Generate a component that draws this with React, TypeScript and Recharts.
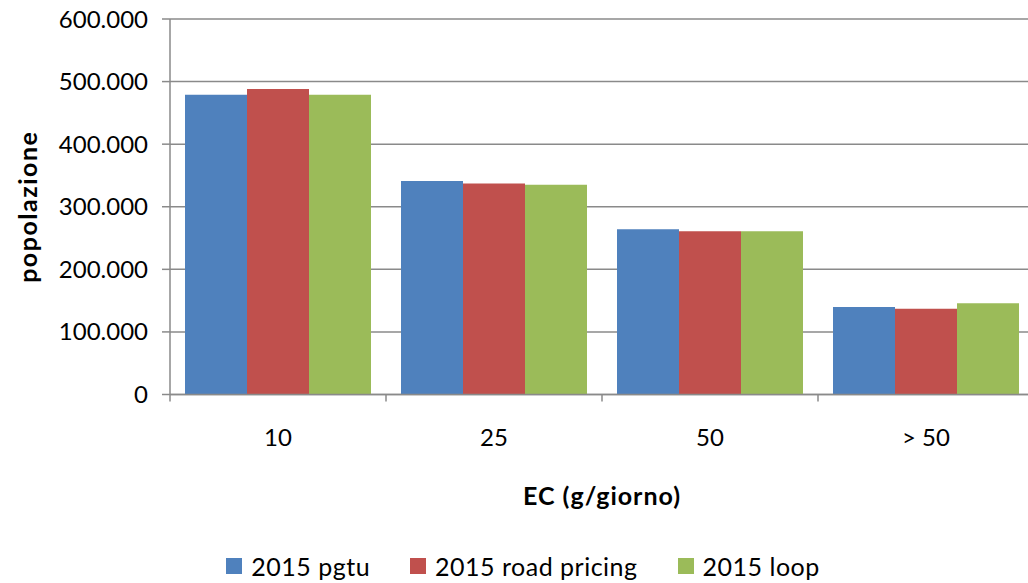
import React from 'react';
import { BarChart, Bar, XAxis, YAxis, CartesianGrid, Legend } from 'recharts';

const categories = ['10', '25', '50', '> 50'];
const pgtu = [479000, 341000, 264000, 140000];
const roadPricing = [488000, 337000, 261000, 137000];
const loop = [479000, 335000, 261000, 146000];
const yTicks = [0, 100000, 200000, 300000, 400000, 500000, 600000];

const seriesInfo = [
  { key: 'pgtu', name: '2015 pgtu', color: '#4F81BD' },
  { key: 'road', name: '2015 road pricing', color: '#C0504D' },
  { key: 'loop', name: '2015 loop', color: '#9BBB59' },
];

const data = categories.map((c, i) => ({
  cat: c,
  pgtu: pgtu[i],
  road: roadPricing[i],
  loop: loop[i],
}));

const FONT = 'Lato, "Open Sans", sans-serif';
const AXIS = '#8a8a8a';
const CHART_W = 1036;
const CHART_H = 583;
const Y_W = 170;
const MARGIN = { top: 19, right: 2, left: 0, bottom: 2 };
const BAND = (CHART_W - Y_W - MARGIN.right) / categories.length;

const fmt = (v: number) => v.toLocaleString('de-DE');

// category label in the middle, tick marks on the band edges (Excel style)
const CatTick = (props: any) => {
  const { x, y, payload, index } = props;
  return (
    <g>
      <line x1={x - BAND / 2} x2={x - BAND / 2} y1={y} y2={y + 7} stroke={AXIS} strokeWidth={1.5} />
      {index === categories.length - 1 && (
        <line x1={x + BAND / 2} x2={x + BAND / 2} y1={y} y2={y + 7} stroke={AXIS} strokeWidth={1.5} />
      )}
      <text x={x} y={y + 51} textAnchor="middle" fontSize={24} fontFamily={FONT} fill="#000">
        {payload.value}
      </text>
    </g>
  );
};

const LegendBox = () => (
  <div style={{ display: 'flex', justifyContent: 'center', alignItems: 'center', height: 30, fontFamily: FONT, fontSize: 25, letterSpacing: 0.5, color: '#000' }}>
    {seriesInfo.map((s) => (
      <div key={s.key} style={{ display: 'flex', alignItems: 'center', margin: '0 20px' }}>
        <span style={{ width: 16, height: 16, background: s.color, display: 'inline-block', marginRight: 9 }} />
        <span>{s.name}</span>
      </div>
    ))}
  </div>
);

export default function App() {
  return (
    <div style={{ position: 'absolute', left: 0, top: 0, width: 1028, height: CHART_H, overflow: 'hidden', background: '#fff' }}>
      <BarChart width={CHART_W} height={CHART_H} data={data} margin={MARGIN} barGap={0} barSize={62}>
        <CartesianGrid vertical={false} stroke={AXIS} strokeWidth={1.5} />
        <XAxis
          dataKey="cat"
          height={156.5}
          axisLine={{ stroke: AXIS, strokeWidth: 1.5 }}
          tickLine={false}
          tickSize={0}
          tickMargin={0}
          tick={<CatTick />}
          interval={0}
          label={{ value: 'EC (g/giorno)', position: 'insideBottom', offset: 46, fontSize: 25, letterSpacing: 1, fontWeight: 700, fontFamily: FONT, fill: '#000' }}
        />
        <YAxis
          width={Y_W}
          domain={[0, 600000]}
          ticks={yTicks}
          interval={0}
          tickFormatter={fmt}
          axisLine={{ stroke: AXIS, strokeWidth: 1.5 }}
          tickLine={{ stroke: AXIS, strokeWidth: 1.5 }}
          tickSize={8}
          tickMargin={14}
          tick={{ fontSize: 24, fontFamily: FONT, fill: '#000' }}
          label={{
            content: ({ viewBox }: any) => (
              <text
                x={27}
                y={viewBox.y + viewBox.height / 2}
                transform={`rotate(-90, 27, ${viewBox.y + viewBox.height / 2})`}
                textAnchor="middle"
                dominantBaseline="central"
                fontSize={25}
                letterSpacing={1.5}
                fontWeight={700}
                fontFamily={FONT}
                fill="#000"
              >
                popolazione
              </text>
            ),
          }}
        />
        <Legend verticalAlign="bottom" content={<LegendBox />} wrapperStyle={{ left: 0, width: 1046 }} />
        {seriesInfo.map((s) => (
          <Bar key={s.key} dataKey={s.key} name={s.name} fill={s.color} isAnimationActive={false} />
        ))}
      </BarChart>
    </div>
  );
}
